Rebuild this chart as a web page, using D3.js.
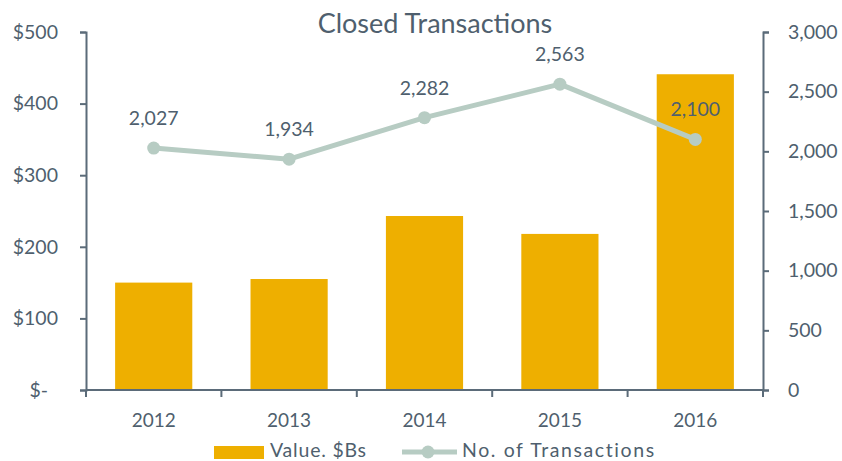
<!DOCTYPE html>
<html>
<head>
<meta charset="utf-8">
<script src="https://cdn.jsdelivr.net/npm/d3@7"></script>
<style>
  html, body { margin: 0; padding: 0; background: #fff; }
  svg text { font-family: "Lato", "Liberation Sans", sans-serif; }
</style>
</head>
<body>
<svg id="chart" width="842" height="461"></svg>
<script>
const years = ["2012", "2013", "2014", "2015", "2016"];
const valueSBs = [150, 155, 243, 218, 441];
const transactions = [2027, 1934, 2282, 2563, 2100];
const leftTicks = [0, 100, 200, 300, 400, 500];
const rightTicks = [0, 500, 1000, 1500, 2000, 2500, 3000];
const titleText = "Closed Transactions";
const legendLabels = ["Value. $Bs", "No. of Transactions"];

const textColor = "#4f5f6e";
const axisColor = "#5b6b79";
const barColor = "#EEAF00";
const lineColor = "#b7ccc3";

const svg = d3.select("#chart");
const pL = 86, pR = 763, pT = 32, pB = 390;

const x = d3.scaleBand().domain(years).range([pL, pR]).paddingInner(0.43).paddingOuter(0.215);
const xb = d3.scaleBand().domain(years).range([pL, pR]);
const yL = d3.scaleLinear().domain([0, 500]).range([pB, pT]);
const yR = d3.scaleLinear().domain([0, 3000]).range([pB, pT]);

// bars
svg.append("g").selectAll("rect").data(years).join("rect")
  .attr("x", d => x(d)).attr("width", x.bandwidth())
  .attr("y", (d, i) => yL(valueSBs[i]))
  .attr("height", (d, i) => yL(0) - yL(valueSBs[i]))
  .attr("fill", barColor);

// left axis
const axL = svg.append("g").attr("transform", `translate(${pL},0)`)
  .call(d3.axisLeft(yL).tickValues(leftTicks).tickSize(6).tickPadding(22)
    .tickFormat(d => d === 0 ? "$-" : "$" + d));
// right axis
const axR = svg.append("g").attr("transform", `translate(${pR},0)`)
  .call(d3.axisRight(yR).tickValues(rightTicks).tickSize(6).tickPadding(19)
    .tickFormat(d3.format(",")));
// bottom axis
const axB = svg.append("g").attr("transform", `translate(0,${pB})`)
  .call(d3.axisBottom(xb).tickSize(0).tickPadding(24));
// category separators
svg.append("g").selectAll("line").data(d3.range(years.length + 1)).join("line")
  .attr("x1", i => pL + i * xb.step()).attr("x2", i => pL + i * xb.step())
  .attr("y1", pB).attr("y2", pB + 7)
  .attr("stroke", axisColor).attr("stroke-width", 2);

[axL, axR, axB].forEach(a => {
  a.select(".domain").attr("stroke", axisColor).attr("stroke-width", 2);
  a.selectAll(".tick line").attr("stroke", axisColor).attr("stroke-width", 2);
  a.selectAll("text").attr("fill", textColor).style("font-size", "19.5px");
});
axL.selectAll("text").attr("text-anchor", "end").attr("x", -28)
  .attr("dx", d => d === 0 ? -10 : 0);
axB.selectAll("text").style("font-size", "19px");
axB.select(".domain").attr("d", `M${pL},0H${pR}`);

// line
const cx = d => xb(d) + xb.bandwidth() / 2;
const line = d3.line().x((d, i) => cx(years[i])).y(d => yR(d));
svg.append("path").datum(transactions).attr("d", line)
  .attr("fill", "none").attr("stroke", lineColor).attr("stroke-width", 5)
  .attr("stroke-linejoin", "round");
svg.append("g").selectAll("circle").data(transactions).join("circle")
  .attr("cx", (d, i) => cx(years[i])).attr("cy", d => yR(d)).attr("r", 6.5)
  .attr("fill", lineColor);
svg.append("g").selectAll("text").data(transactions).join("text")
  .attr("x", (d, i) => cx(years[i])).attr("y", d => yR(d) - 23)
  .attr("text-anchor", "middle").attr("fill", textColor)
  .style("font-size", "19.5px").text(d => d3.format(",")(d));

// title
svg.append("text").attr("x", 435).attr("y", 33).attr("text-anchor", "middle")
  .attr("fill", textColor).style("font-size", "27px").text(titleText);

// legend
const lg = svg.append("g");
lg.append("rect").attr("x", 214).attr("y", 446).attr("width", 50).attr("height", 13).attr("fill", barColor);
lg.append("text").attr("x", 270).attr("y", 457).attr("fill", textColor)
  .style("font-size", "19.5px").style("letter-spacing", "0.8px").text(legendLabels[0]);
lg.append("line").attr("x1", 402).attr("x2", 457).attr("y1", 452).attr("y2", 452)
  .attr("stroke", lineColor).attr("stroke-width", 5);
lg.append("circle").attr("cx", 428).attr("cy", 452).attr("r", 6.5).attr("fill", lineColor);
lg.append("text").attr("x", 462).attr("y", 457).attr("fill", textColor)
  .style("font-size", "19.5px").style("letter-spacing", "1.6px").text(legendLabels[1]);
</script>
</body>
</html>
